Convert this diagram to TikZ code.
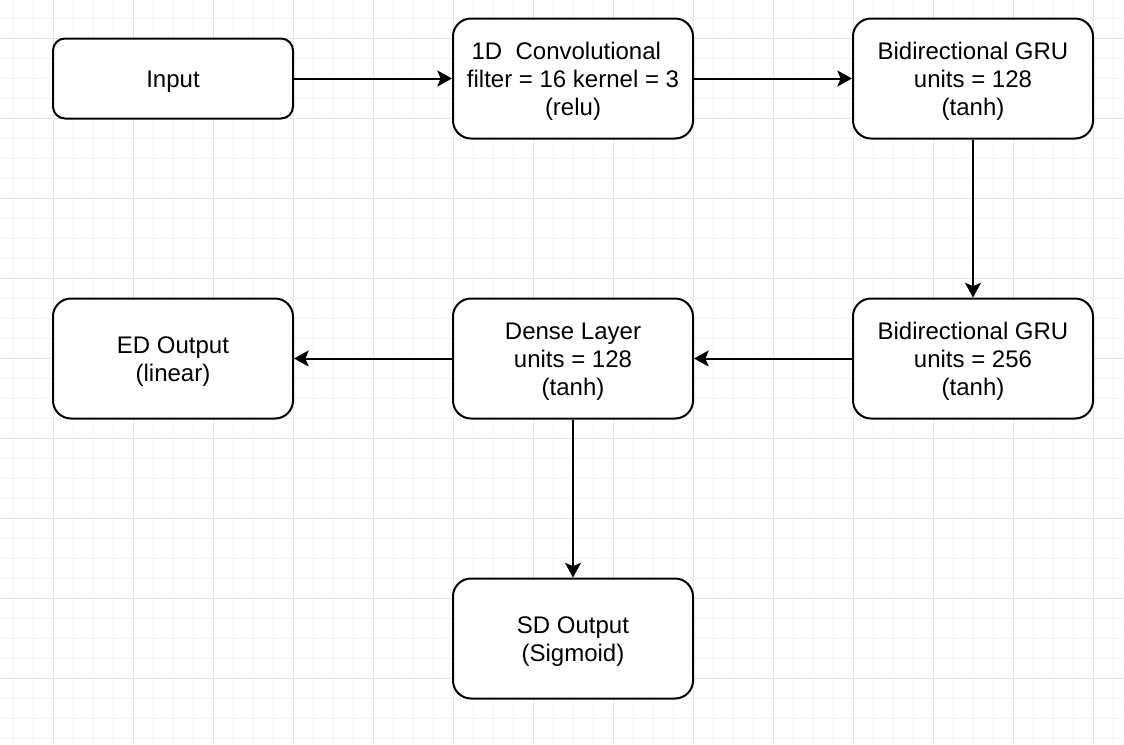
\documentclass[tikz,border=0pt]{standalone}
\usepackage{fontspec}
\setmainfont{Liberation Sans}
\usetikzlibrary{positioning,arrows.meta}
\definecolor{gridminor}{HTML}{F4F4F4}
\definecolor{gridmajor}{HTML}{E4E4E4}
\tikzstyle{layer} = [rectangle, draw, line width=1.5pt, fill=white, rounded corners=13.5pt, minimum width=180pt, minimum height=90pt, inner sep=0pt, text centered, font=\fontsize{18}{21}\selectfont]
\tikzstyle{line} = [draw, line width=1.5pt, -{Stealth[length=11pt,width=12pt,inset=2.5pt]}]
\newcommand{\nodebox}[2]{\raisebox{-2.2pt}[\height][\depth]{\parbox[c]{#1}{\centering #2}}}

\begin{document}
\begin{tikzpicture}[node distance = 118.5pt]
    \useasboundingbox (0,0) rectangle (843pt,-558pt);
    % Grid
    \foreach \gx in {9.75,24.75,...,843} \draw[gridminor, line width=0.75pt] (\gx pt,0) -- (\gx pt,-558pt);
    \foreach \gy in {-13.5,-28.5,...,-558} \draw[gridminor, line width=0.75pt] (0,\gy pt) -- (843pt,\gy pt);
    \foreach \gx in {39.75,99.75,...,843} \draw[gridmajor, line width=0.75pt] (\gx pt,0) -- (\gx pt,-558pt);
    \foreach \gy in {-28.5,-88.5,...,-558} \draw[gridmajor, line width=0.75pt] (0,\gy pt) -- (843pt,\gy pt);
    % Upper row
    \node [layer] (conv) at (429.75pt,-58.875pt) {\nodebox{175pt}{1D\ \ Convolutional\ \ \mbox{}\\ filter = 16 kernel = 3\\ (relu)}};
    \node [layer, left=of conv, minimum height=60pt, rounded corners=9pt] (input) {\nodebox{175pt}{Input}};
    \node [layer, right=of conv] (gru1) {\nodebox{175pt}{Bidirectional GRU\\ units = 128\\ (tanh)}};
    % Lower rows
    \node [layer, below=of gru1] (gru2) {\nodebox{175pt}{Bidirectional GRU\\ units = 256\\ (tanh)}};
    \node [layer, left=of gru2] (dense) {\nodebox{175pt}{Dense Layer\\ units = 128\\ (tanh)}};
    \node [layer, left=of dense] (ed) {\nodebox{175pt}{ED Output\\ (linear)}};
    \node [layer, below=of dense] (sd) {\nodebox{175pt}{SD Output\\ (Sigmoid)}};

    \path [line] (input) -- (conv);
    \path [line] (conv) -- (gru1);
    \path [line] (gru1) -- (gru2);
    \path [line] (gru2) -- (dense);
    \path [line] (dense) -- (ed);
    \path [line] (dense) -- (sd);
\end{tikzpicture}
\end{document}
